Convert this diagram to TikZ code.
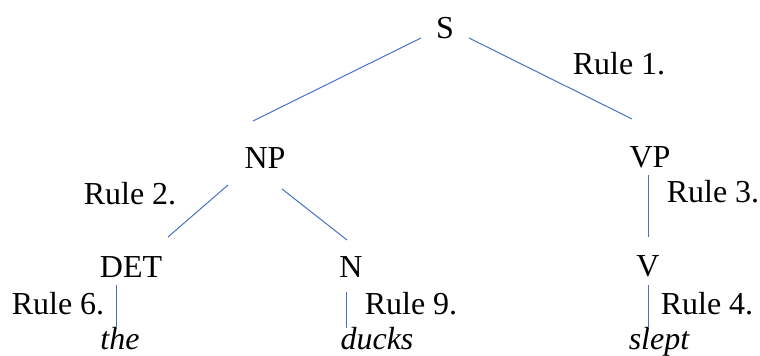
\documentclass[tikz,border=0pt]{standalone}
\usepackage{fontspec}
\setmainfont{Liberation Serif}
\newfontfamily\treefont{Liberation Serif}
\definecolor{lineblue}{HTML}{4472C4}

\begin{document}
\begin{tikzpicture}[x=0.5pt, y=-0.5pt,
    every node/.style={font=\treefont\fontsize{16}{19}\selectfont, inner sep=0pt, anchor=base},
    word/.style={font=\treefont\fontsize{16}{19}\selectfont\itshape},
    edge/.style={draw=lineblue, line width=0.5pt}]
    \useasboundingbox (0, 0) rectangle (760, 356);

    % ノードを描画
    \node (S) at (445, 39) {S};
    \node (NP) at (265, 169) {NP};
    \node (VP) at (650, 168) {VP};
    \node (DET) at (131, 278) {DET};
    \node (N) at (351, 278) {N};
    \node (V) at (648, 277) {V};
    \node[word] (the) at (120, 350) {the};
    \node[word] (ducks) at (377, 350) {ducks};
    \node[word] (slept) at (659, 350) {slept};

    % ルールを描画
    \node (r1) at (619, 75) {Rule 1.};
    \node (r2) at (130, 205) {Rule 2.};
    \node (r3) at (713, 203) {Rule 3.};
    \node (r6) at (58, 315) {Rule 6.};
    \node (r9) at (411, 315) {Rule 9.};
    \node (r4) at (707, 315) {Rule 4.};

    % エッジを描画
    \draw[edge] ([shift={(-24, -1)}]S.base) -- ([shift={(-12, -48)}]NP.base);
    \draw[edge] ([shift={(24, -1)}]S.base) -- ([shift={(-18, -49)}]VP.base);
    \draw[edge] ([shift={(-37, 16)}]NP.base) -- ([shift={(37, -41)}]DET.base);
    \draw[edge] ([shift={(17, 20)}]NP.base) -- ([shift={(-4, -38)}]N.base);
    \draw[edge] ([shift={(-2, 7)}]VP.base) -- ([shift={(0, -40)}]V.base);
    \draw[edge] ([shift={(-15, 7)}]DET.base) -- ([shift={(-4, -22)}]the.base);
    \draw[edge] ([shift={(-5, 14)}]N.base) -- ([shift={(-31, -22)}]ducks.base);
    \draw[edge] ([shift={(0, 8)}]V.base) -- ([shift={(-11, -22)}]slept.base);
\end{tikzpicture}
\end{document}
